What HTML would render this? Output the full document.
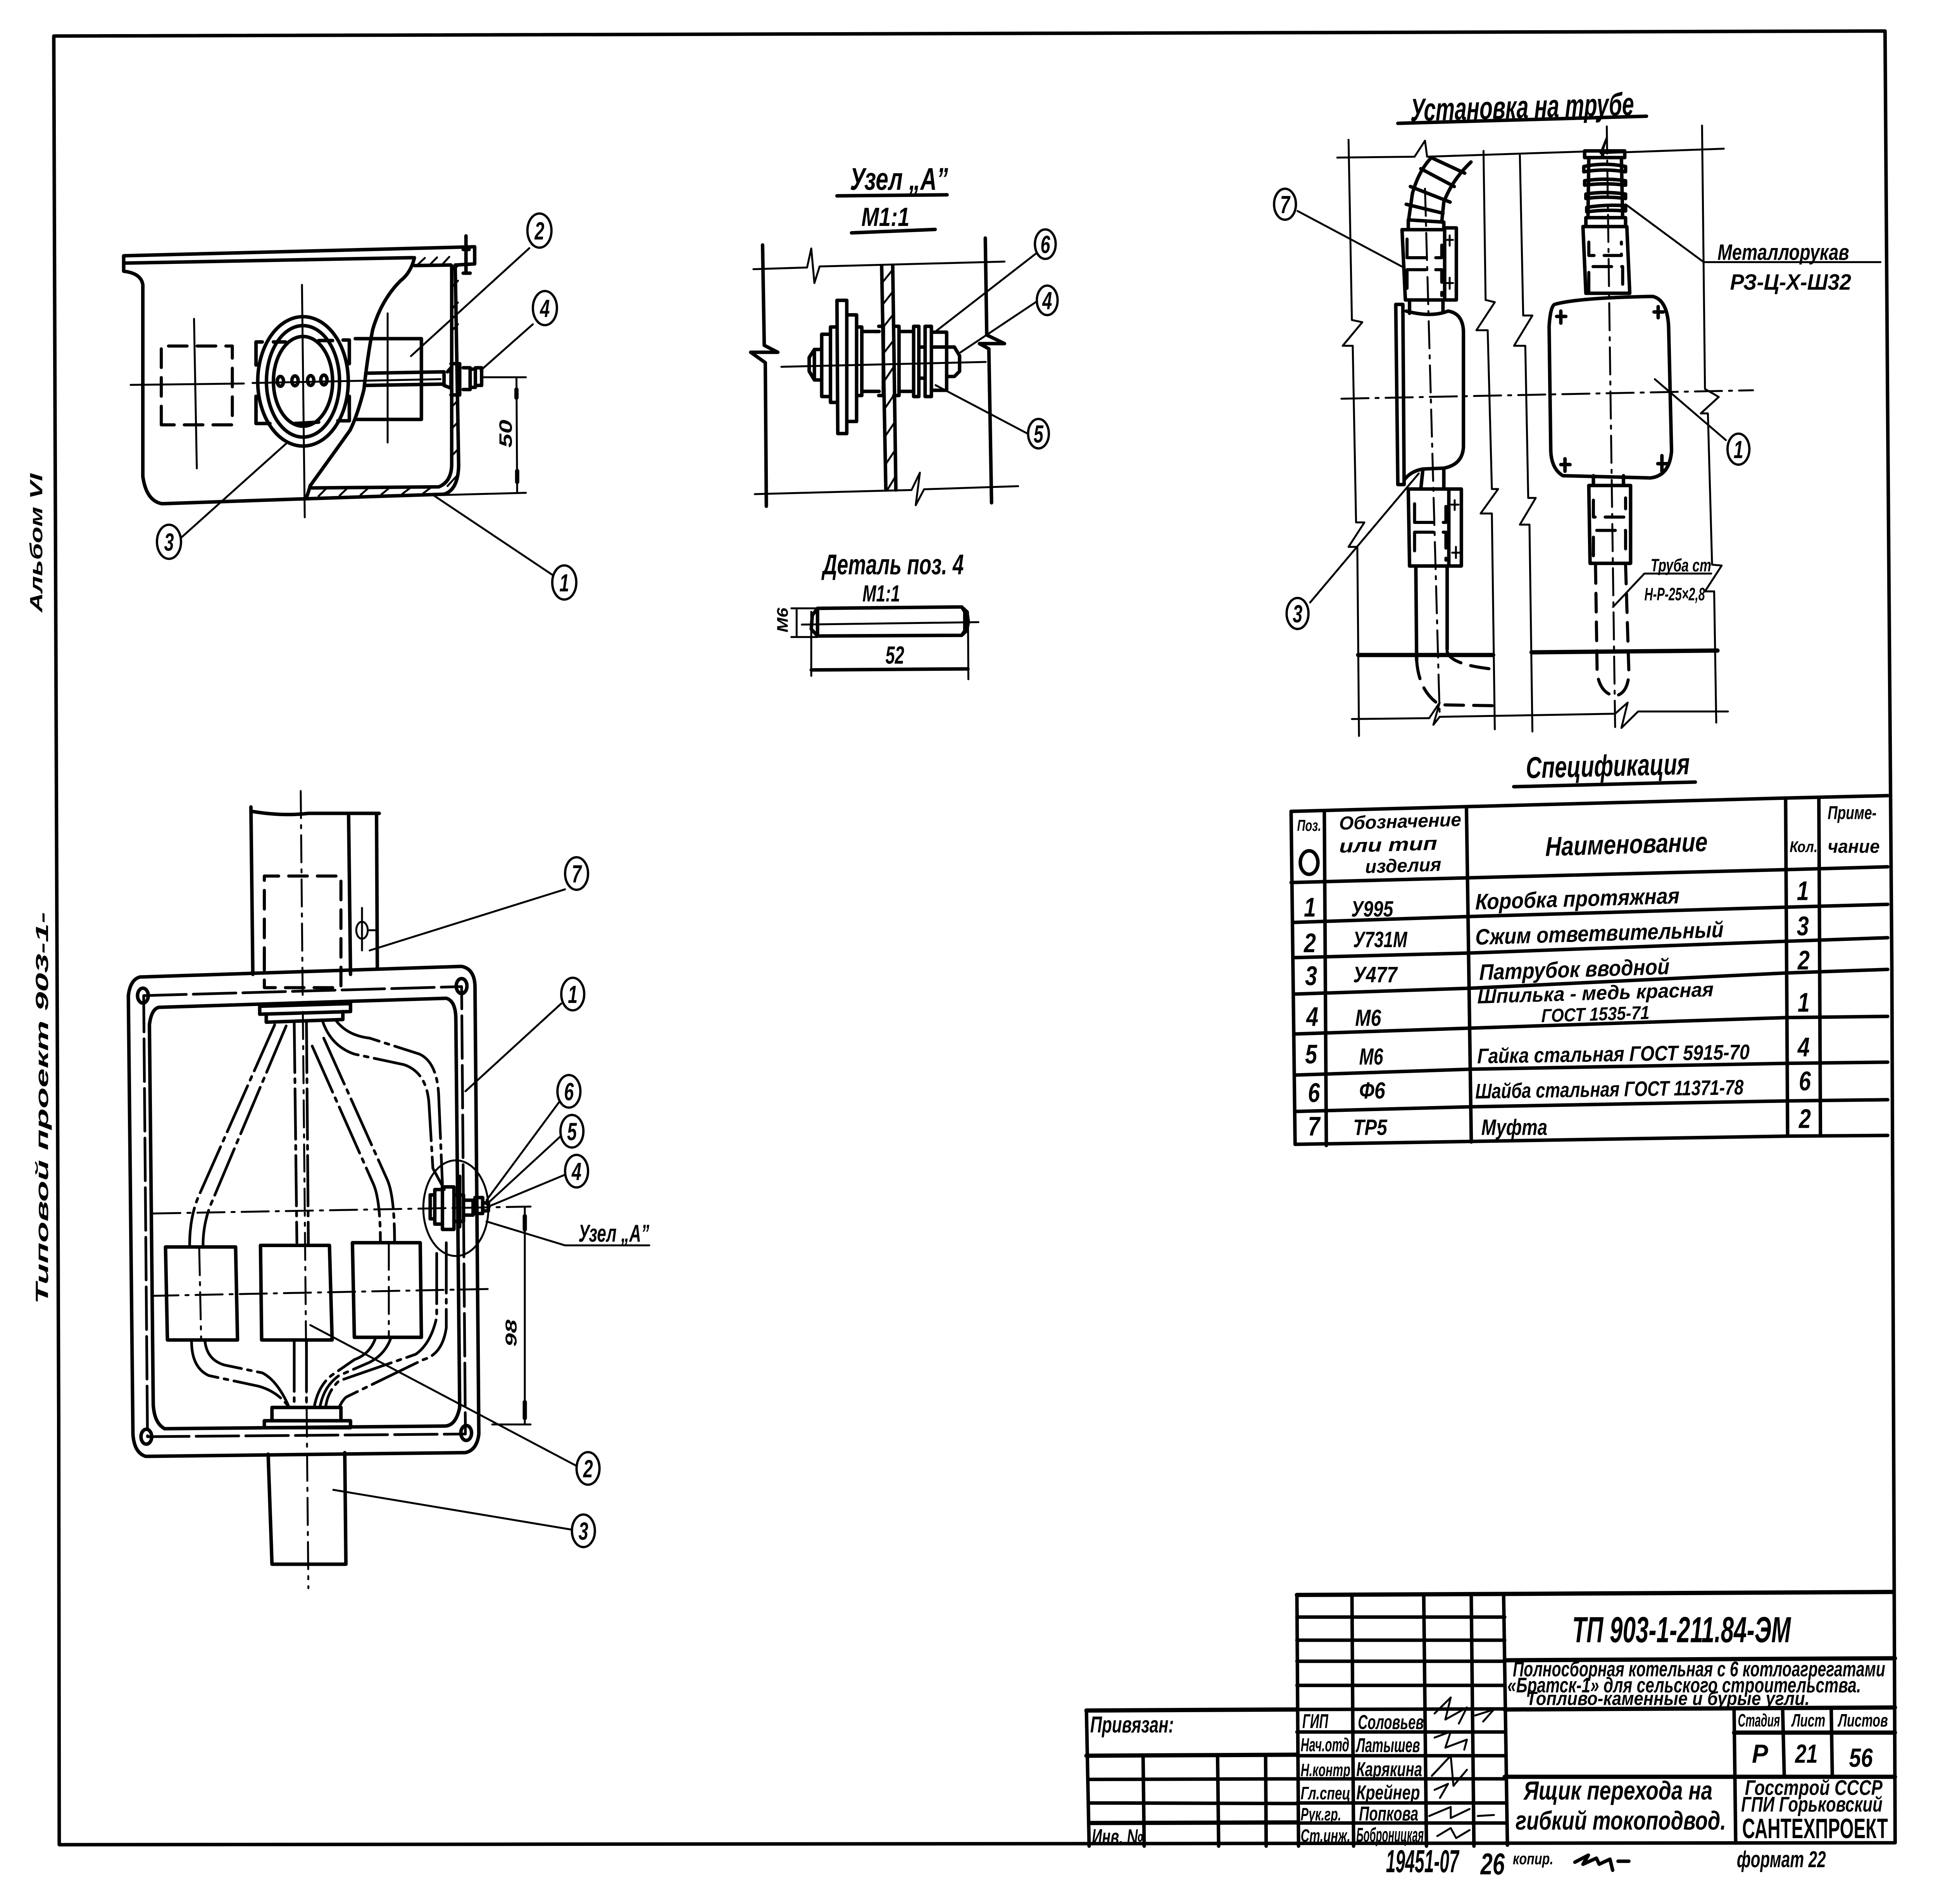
<!DOCTYPE html>
<html lang="ru"><head><meta charset="utf-8"><title>ТП 903-1-211.84-ЭМ</title>
<style>
html,body{margin:0;padding:0;background:#fff;width:100%;height:100%;overflow:hidden}
svg{display:block;width:100vw;height:100vh}
svg *{vector-effect:non-scaling-stroke}
path,ellipse,circle,line,rect{fill:none;stroke:#000;stroke-linecap:round;stroke-linejoin:round}
.f{stroke-width:9}
.m{stroke-width:9}
.k{stroke-width:11}
.t{stroke-width:5}
.d{stroke-width:8;stroke-dasharray:48 26}
.w{stroke-width:7;stroke-dasharray:130 16 10 16}
.l{stroke-width:7;stroke-dasharray:110 18}
.c{stroke-width:5;stroke-dasharray:70 18 8 18}
text{font-family:"Liberation Sans",sans-serif;font-style:italic;font-weight:bold;fill:#000}
.n text{text-anchor:middle;font-size:64px}
.n circle{stroke-width:6;fill:#fff}
</style></head><body>
<svg xmlns="http://www.w3.org/2000/svg" viewBox="0 0 7099 4913" preserveAspectRatio="none">
<rect width="7099" height="4913" style="fill:#fff;stroke:none"/>

<!-- frame -->
<path class="f" d="M197 93L6905 80L6914 1000L6930 2500L6942 4755L217 4760L215 3650L202 1150Z"/>

<!-- margin -->
<text transform="translate(155 1580) rotate(-90)" font-size="64" textLength="358" lengthAdjust="spacingAndGlyphs">Альбом VI</text>
<text transform="translate(176 3365) rotate(-90)" font-size="64" textLength="1012" lengthAdjust="spacingAndGlyphs">Типовой проект 903-1-</text>

<!-- A: front section view -->
<g transform="translate(300 500) scale(1.2755 .7015)">
<path class="m" d="M120 228L1128 195V258L1075 262M120 228V285Q170 292 175 335L175 1040Q185 1130 230 1140L640 1122L1040 1105Q1080 1090 1082 1000L1072 262M122 255L950 235M955 264L1060 262M1062 265L1062 1000Q1060 1060 1025 1078L660 1082M645 1118L655 1078M955 235Q945 290 915 320Q860 390 835 500Q820 600 810 720Q790 820 770 870Q720 960 655 1075"/>
<path class="t" d="M965 260L985 236M1000 260L1020 234M1035 260L1055 232M1065 280L1080 265M1065 340L1080 320M1065 420L1080 400M1065 500L1080 480M1065 780L1080 760M1065 860L1080 840M1065 960L1080 940M1050 1075L1075 1040M680 1112L705 1080M740 1110L765 1080M800 1108L825 1080M860 1106L885 1080M920 1104L945 1080M980 1102L1005 1078"/>
<path class="d" d="M228 850V560H432V850H228"/>
<ellipse class="m" cx="635" cy="690" rx="130" ry="238"/>
<ellipse class="m" cx="635" cy="690" rx="105" ry="205"/>
<ellipse class="m" cx="635" cy="690" rx="85" ry="165"/>
<path class="m" d="M518 545H500V630M750 538H768V625M500 745V845H540M768 745V835H735M785 533H975V830H785M585 545L550 545M680 540L720 540M610 845L680 840"/>
<ellipse class="m" cx="570" cy="690" rx="9" ry="18"/><ellipse class="m" cx="612" cy="688" rx="9" ry="18"/><ellipse class="m" cx="657" cy="687" rx="9" ry="18"/><ellipse class="m" cx="695" cy="685" rx="9" ry="18"/>
<path class="t" d="M140 703L465 698M490 696L1030 682M322 460L330 1010M632 335L640 1190M878 440L878 915"/>
<path class="m" d="M815 660L1040 655M815 705L1040 700M1040 655V705L1060 715V640L1050 655M1060 625H1085V740H1060M1095 640H1115V720H1095M1120 645H1130V712H1120M1130 640H1148V705H1130M1103 155V292M1095 292H1115M1095 205H1112"/>
<path class="t" d="M1150 675H1275M1040 1108L1275 1100M1248 680L1250 1100"/>
<path class="k" d="M1248 720V750M1250 1020V1060"/>
<path class="t" d="M1285 200L945 597M1295 480L1145 650M285 1265L590 915M1355 1405L1005 1105"/>
</g>
<text transform="translate(1875 1155) rotate(-90)" font-size="66" textLength="72" lengthAdjust="spacingAndGlyphs">50</text>

<!-- B: node A -->
<g transform="translate(2700 400) scale(.7653 .8929)">
<path class="m" d="M478 118L1005 115M548 225L948 215"/>
<path class="t" d="M78 330L335 325L355 270L370 370L395 322L1280 308M85 980L835 968L875 918L855 1012L895 966L1345 957"/>
<path class="m" d="M122 260L130 550L195 570L65 570L135 600L140 1015M1188 240L1195 520L1280 545L1160 545L1205 560L1218 1005"/>
<path class="m" d="M692 320L712 968M745 320L760 968"/>
<path class="t" d="M700 365L740 335M700 430L745 395M703 495L748 460M705 570L750 535M708 650L752 610M710 730L755 690M712 810L757 770M715 890L760 850M722 965L762 925"/>
<path class="t" d="M212 612L1190 598"/>
<path class="m" d="M478 420H525V805H482ZM525 462H572V770H530M478 497H447V715H478M447 518H405V698H447M405 562H370L345 585V625L370 650H405M370 562V650M575 497H597V695H575M597 510H680M597 683H680M678 495H700V695H678M750 495H775V695H750M775 510H845M775 683H845M845 495H870V698H845ZM870 555H900M870 645H900M900 495H930V698H900ZM930 512H1003V680H930M930 555H1040L1065 580V625L1040 640H1003"/>
<path class="t" d="M1430 285L950 510M1430 425L1070 570M1390 805L950 665"/>
<path class="m" d="M385 1310L1075 1306L1090 1320V1375L1075 1388L385 1390ZM385 1310L360 1330L355 1370L385 1390M1075 1306L1100 1320L1107 1350L1098 1375L1075 1388"/>
<path class="t" d="M310 1357L1155 1350M260 1310H385M260 1393H385M285 1315V1390M355 1320V1505M1105 1320L1107 1515"/>
<path class="m" d="M355 1488L1105 1485"/>
<text x="540" y="100" font-size="90" textLength="470" lengthAdjust="spacingAndGlyphs">Узел „А”</text>
<text x="595" y="205" font-size="76" textLength="230" lengthAdjust="spacingAndGlyphs">М1:1</text>
<text x="410" y="1212" font-size="82" textLength="675" lengthAdjust="spacingAndGlyphs">Деталь поз. 4</text>
<text x="600" y="1290" font-size="68" textLength="180" lengthAdjust="spacingAndGlyphs">М1:1</text>
<text x="710" y="1470" font-size="72" textLength="90" lengthAdjust="spacingAndGlyphs">52</text>
</g>
<text transform="translate(2886 1632) rotate(-90)" font-size="56" textLength="64" lengthAdjust="spacingAndGlyphs">М6</text>

<!-- C: mounting on pipe -->
<g transform="translate(4600 200) scale(1.5306 1.148)">
<path class="m" d="M340 103L935 87"/>
<path class="t" d="M195 180L380 178L405 142L410 178L830 165L840 135L825 170L1120 160M222 140L230 545L255 550L208 603L232 603L240 1000L260 1000L222 1055L243 1055L247 1480M545 165L550 500L572 505L528 568L555 568L565 925L580 925L538 980L565 980L572 1465M632 175L640 535L662 535L618 603L645 603L652 945L670 945L632 1005L655 1005L662 1470M1068 108L1075 700L1108 718L1065 755L1082 755L1092 1095L1115 1097L1075 1155L1097 1155L1102 1450M230 1442L415 1440L440 1405L425 1455L440 1437L860 1430L890 1405L875 1462L915 1425L1130 1425"/>
<path class="k" d="M245 1298H568M660 1292L1105 1288"/>
<path class="c" d="M205 722L1190 703M405 250L440 1430M840 110L860 1460"/>
<!-- left assembly -->
<path class="m" d="M365 325L375 260Q390 210 420 180M445 325L450 280Q470 230 515 190M360 285L448 305M370 245L465 280M395 205L475 245M420 180L500 215M365 320L450 325V342M365 320V342M350 342H452V500H358ZM452 338H480V500H452"/>
<path class="d" d="M362 405V355M362 405H445V355M362 432V490M362 432H445V490"/>
<path class="t" d="M457 365H472M464 355V378M457 462H472M464 450V475"/>
<path class="m" d="M368 505V530M448 505V528M335 510H352L355 915H340ZM360 525Q420 540 460 525Q495 530 497 570L497 830Q495 870 450 878L400 880Q370 885 355 905M400 880L395 925M450 878V925M365 925H462V1098H368ZM462 925H492V1098H465"/>
<path class="d" d="M380 1000V945M380 1000H455V945M380 1022V1085M380 1022H455V1085"/>
<path class="t" d="M468 960H485M476 950V972M470 1068H488M479 1055V1080"/>
<path class="m" d="M383 1098L385 1310M458 1098L458 1285"/>
<path class="d" d="M385 1310Q390 1380 440 1410L570 1412M458 1290Q465 1320 570 1330"/>
<!-- right assembly -->
<path class="m" d="M787 165H883V180H787ZM830 180V165M797 180L795 315M875 180L878 315M785 200Q835 190 885 200V212Q835 204 785 212ZM787 232Q835 225 885 232V242Q835 236 787 242ZM790 262Q835 255 885 262V272Q835 266 790 272ZM792 292Q835 285 885 288V300Q835 296 792 302ZM790 315H885V335H790ZM783 335H888L895 485H790ZM715 510Q770 495 950 492Q985 500 988 560L995 840Q990 895 945 900L735 895Q708 880 706 840L702 560Q705 515 715 510ZM808 895V917M880 895V917M797 917H897V1092H800Z"/>
<path class="d" d="M797 370V400H875V370M797 480V425H878V480M808 950V988H885V945M808 1075V1018H885V1075"/>
<path class="m" d="M720 537H742M730 525V552M953 527H975M963 515V540M730 870H752M740 857V885M962 868H984M972 850V885"/>
<path class="d" d="M813 1095L817 1340Q825 1385 860 1390Q890 1385 893 1340L885 1095"/>
<path class="t" d="M885 285L1072 415H1495M955 678L1125 815M100 300L350 425M130 1180L390 890M855 1190L930 1115H1090"/>
<text transform="translate(370 98) skewY(-1.5)" font-size="72" textLength="535" lengthAdjust="spacingAndGlyphs">Установка на трубе</text>
<text x="1105" y="410" font-size="50" textLength="315" lengthAdjust="spacingAndGlyphs">Металлорукав</text>
<text x="1135" y="477" font-size="50" textLength="290" lengthAdjust="spacingAndGlyphs">РЗ-Ц-Х-Ш32</text>
<text x="945" y="1110" font-size="40" textLength="145" lengthAdjust="spacingAndGlyphs">Труба ст</text>
<text x="930" y="1175" font-size="40" textLength="145" lengthAdjust="spacingAndGlyphs">Н-Р-25×2,8</text>
</g>

<!-- D: plan view -->
<g transform="translate(400 2000) scale(1.4031 1.3712)">
<path class="m" d="M370 60L375 375M370 68Q450 78 520 72L705 72M625 75L630 375M698 75L700 365M415 1278L425 1485H618L615 1275"/>
<ellipse class="t" cx="660" cy="292" rx="15" ry="16"/>
<path class="t" d="M660 250V330M675 292H700M680 330L1190 215"/>
<path class="d" d="M405 360V190H605V400H405V360"/>
<path class="m" d="M80 380L920 360Q955 365 955 400L965 1240Q960 1270 930 1275L95 1282Q65 1275 62 1240L50 415Q55 385 80 380ZM130 437L880 420Q905 425 905 460L915 1190Q905 1225 875 1225L145 1230Q118 1220 115 1185L105 470Q110 440 130 437Z"/>
<path class="l" d="M90 415L920 398L930 1240L100 1245Z"/>
<circle class="m" cx="88" cy="415" r="14"/><circle class="m" cx="920" cy="397" r="14"/><circle class="m" cx="97" cy="1245" r="14"/><circle class="m" cx="932" cy="1238" r="14"/>
<path class="m" d="M393 435L630 430V445L393 450ZM410 450V465L610 460V445M425 1190H605V1215H425ZM405 1215H630V1228H405ZM147 888H330L335 1063H152ZM395 885H575L582 1063H398ZM635 880H812L815 1058H640Z"/>
<path class="w" d="M432 470L235 790Q210 830 210 885M462 472L270 800Q245 840 245 885M530 510L690 770Q708 800 708 880M560 495L725 760Q745 790 745 880M558 465Q580 510 640 525L770 545Q830 560 835 620L845 740L875 780M590 460Q620 490 680 495L810 525Q855 540 860 600L870 770M880 880L880 1040Q870 1090 820 1100L620 1170Q610 1175 600 1190M855 900L855 1020Q840 1070 800 1090L600 1140Q570 1160 565 1190M483 465L490 880M515 465L520 885M483 1065V1190M515 1065V1190M215 1065Q215 1115 260 1130L390 1150Q440 1160 470 1190M250 1065Q255 1100 300 1110L400 1125Q440 1140 470 1190M695 1060Q680 1090 640 1100L580 1130Q545 1150 535 1190M735 1060Q720 1090 680 1105L600 1130Q560 1150 550 1190"/>
<path class="c" d="M500 30L520 1530M115 825L1100 812M110 980L995 967M235 890L240 1060M730 880V1058"/>
<ellipse class="t" cx="905" cy="815" rx="85" ry="90"/>
<path class="m" d="M838 790H850V835H838ZM850 780H870V845H850ZM870 775H900V855H870ZM900 790H925V840H900ZM925 800H950V828H925ZM955 795H975V825H955ZM975 805H990V820H975ZM915 755V850"/>
<path class="t" d="M1000 1222H1100M1085 815V1222M985 840L1190 885H1410M1180 430L930 595M1175 615L985 800M1178 680L985 808M1190 752L990 812M1220 1300L525 1035M1208 1420L585 1345"/>
<path class="k" d="M1085 830V855M1085 1180V1210"/>
<text x="1225" y="878" font-size="46" textLength="185" lengthAdjust="spacingAndGlyphs">Узел „А”</text>
</g>
<text transform="translate(1892 3475) rotate(-90)" font-size="58" textLength="70" lengthAdjust="spacingAndGlyphs">98</text>

<!-- callouts -->
<g class="n">
<g transform="translate(1976 595)"><circle r="44"/><text y="23">2</text></g>
<g transform="translate(1996 795)"><circle r="44"/><text y="23">4</text></g>
<g transform="translate(619 1398)"><circle r="44"/><text y="23">3</text></g>
<g transform="translate(2067 1503)"><circle r="44"/><text y="23">1</text></g>
<g transform="translate(3829 630)"><circle r="38"/><text y="23">6</text></g>
<g transform="translate(3836 775)"><circle r="38"/><text y="23">4</text></g>
<g transform="translate(3804 1119)"><circle r="38"/><text y="23">5</text></g>
<g transform="translate(4707 527)"><circle r="40"/><text y="23">7</text></g>
<g transform="translate(4753 1583)"><circle r="40"/><text y="23">3</text></g>
<g transform="translate(6368 1159)"><circle r="40"/><text y="23">1</text></g>
<g transform="translate(2112 2254)"><circle r="42"/><text y="23">7</text></g>
<g transform="translate(2098 2565)"><circle r="42"/><text y="23">1</text></g>
<g transform="translate(2084 2816)"><circle r="42"/><text y="23">6</text></g>
<g transform="translate(2095 2919)"><circle r="42"/><text y="23">5</text></g>
<g transform="translate(2112 3022)"><circle r="42"/><text y="23">4</text></g>
<g transform="translate(2154 3789)"><circle r="42"/><text y="23">2</text></g>
<g transform="translate(2137 3950)"><circle r="42"/><text y="23">3</text></g>
</g>

<text transform="translate(5590 2008) rotate(-1)" font-size="78" textLength="600" lengthAdjust="spacingAndGlyphs">Спецификация</text>
<path class="m" d="M5545 2030L6210 2018"/>

<!-- E: spec table -->
<g transform="translate(4700 2050) scale(1.4668 .6059)">
<path class="m" d="M20 72L1260 15L1510 5M20 375L460 355L1260 320L1510 308M30 1490L1260 1455L1510 1452"/>
<path class="m" d="M25 545L460 520L1255 480L1510 468M25 695L470 675L1260 625L1510 610M30 850L470 825L1260 760L1510 745M30 1020L470 995L1260 950L1510 945M30 1195L470 1170L1260 1145L1510 1140M30 1350L470 1330L1260 1305L1510 1300"/>
<path class="m" d="M20 72L30 1490M103 70L108 1495M458 60L470 1480M1255 20L1260 1455M1338 15L1342 1452"/>
<ellipse class="m" cx="65" cy="290" rx="22" ry="50"/>
<text x="35" y="155" font-size="68" textLength="60" lengthAdjust="spacingAndGlyphs">Поз.</text>
<text transform="translate(140 150) skewY(-3)" font-size="80" textLength="305" lengthAdjust="spacingAndGlyphs">Обозначение</text>
<text transform="translate(140 248) skewY(-3)" font-size="80" textLength="245" lengthAdjust="spacingAndGlyphs">или тип</text>
<text transform="translate(205 335) skewY(-3)" font-size="80" textLength="190" lengthAdjust="spacingAndGlyphs">изделия</text>
<text transform="translate(655 262) skewY(-3)" font-size="115" textLength="405" lengthAdjust="spacingAndGlyphs">Наименование</text>
<text x="1265" y="245" font-size="66" textLength="70" lengthAdjust="spacingAndGlyphs">Кол.</text>
<text x="1360" y="105" font-size="80" textLength="122" lengthAdjust="spacingAndGlyphs">Приме-</text>
<text x="1360" y="248" font-size="80" textLength="130" lengthAdjust="spacingAndGlyphs">чание</text>

<text x="52" y="520" font-size="115" textLength="30" lengthAdjust="spacingAndGlyphs">1</text><text x="170" y="520" font-size="95" textLength="105" lengthAdjust="spacingAndGlyphs">У995</text>
<text transform="translate(480 490) skewY(-3)" font-size="95" textLength="510" lengthAdjust="spacingAndGlyphs">Коробка протяжная</text><text x="1283" y="450" font-size="115" textLength="30" lengthAdjust="spacingAndGlyphs">1</text>
<text x="52" y="672" font-size="115" textLength="30" lengthAdjust="spacingAndGlyphs">2</text><text x="175" y="650" font-size="95" textLength="135" lengthAdjust="spacingAndGlyphs">У731М</text>
<text transform="translate(480 640) skewY(-3)" font-size="95" textLength="620" lengthAdjust="spacingAndGlyphs">Сжим ответвительный</text><text x="1283" y="600" font-size="115" textLength="30" lengthAdjust="spacingAndGlyphs">3</text>
<text x="55" y="812" font-size="115" textLength="30" lengthAdjust="spacingAndGlyphs">3</text><text x="175" y="800" font-size="95" textLength="110" lengthAdjust="spacingAndGlyphs">У477</text>
<text transform="translate(490 790) skewY(-3)" font-size="95" textLength="475" lengthAdjust="spacingAndGlyphs">Патрубок вводной</text><text x="1285" y="745" font-size="115" textLength="30" lengthAdjust="spacingAndGlyphs">2</text>
<text x="58" y="985" font-size="115" textLength="30" lengthAdjust="spacingAndGlyphs">4</text><text x="180" y="985" font-size="100" textLength="65" lengthAdjust="spacingAndGlyphs">М6</text>
<text transform="translate(485 890) skewY(-3)" font-size="85" textLength="590" lengthAdjust="spacingAndGlyphs">Шпилька - медь красная</text>
<text transform="translate(645 970) skewY(-3)" font-size="80" textLength="270" lengthAdjust="spacingAndGlyphs">ГОСТ 1535-71</text><text x="1285" y="925" font-size="115" textLength="30" lengthAdjust="spacingAndGlyphs">1</text>
<text x="55" y="1145" font-size="115" textLength="30" lengthAdjust="spacingAndGlyphs">5</text><text x="190" y="1150" font-size="100" textLength="60" lengthAdjust="spacingAndGlyphs">М6</text>
<text transform="translate(485 1145) skewY(-1.5)" font-size="90" textLength="680" lengthAdjust="spacingAndGlyphs">Гайка стальная ГОСТ 5915-70</text><text x="1285" y="1115" font-size="115" textLength="30" lengthAdjust="spacingAndGlyphs">4</text>
<text x="62" y="1310" font-size="115" textLength="30" lengthAdjust="spacingAndGlyphs">6</text><text x="190" y="1295" font-size="100" textLength="65" lengthAdjust="spacingAndGlyphs">Ф6</text>
<text transform="translate(480 1295) skewY(-1.5)" font-size="90" textLength="670" lengthAdjust="spacingAndGlyphs">Шайба стальная ГОСТ 11371-78</text><text x="1288" y="1260" font-size="115" textLength="30" lengthAdjust="spacingAndGlyphs">6</text>
<text x="62" y="1452" font-size="115" textLength="30" lengthAdjust="spacingAndGlyphs">7</text><text x="175" y="1450" font-size="95" textLength="85" lengthAdjust="spacingAndGlyphs">ТР5</text>
<text x="495" y="1450" font-size="95" textLength="165" lengthAdjust="spacingAndGlyphs">Муфта</text><text x="1288" y="1420" font-size="115" textLength="30" lengthAdjust="spacingAndGlyphs">2</text>
</g>

<!-- T: title block -->
<g transform="translate(3950 4100) scale(1.977 .5185)">
<path class="m" d="M405 30L1510 15M405 30L408 1280M507 35L510 1280M640 35L645 1280M728 35L733 1280M788 30L795 1275M405 140H790M405 255H790M405 360H790M405 480H790M15 605L405 600L790 597M405 712H790M405 830H790M405 945H790M405 1065H790M405 1165H790M15 605L20 1280M15 830L405 825M20 948L405 945M20 1065L405 1068M20 1165L405 1162M120 835L122 1280M258 835L260 1280M347 835L348 1280M790 355L1513 345M790 600L1513 590M790 935L1513 935M1215 600L1218 1265M1215 715L1513 715M1305 600L1308 935M1395 600L1397 935"/>
<path class="k" d="M15 605L405 600M15 830L405 825M20 1165L405 1162M405 30L1510 15M790 355L1513 345M790 600L1513 590M790 935L1513 935M1215 715L1513 715"/>
<text x="915" y="265" font-size="180" textLength="405" lengthAdjust="spacingAndGlyphs">ТП 903-1-211.84-ЭМ</text>
<text x="805" y="435" font-size="105" textLength="690" lengthAdjust="spacingAndGlyphs">Полносборная котельная с 6 котлоагрегатами</text>
<text x="795" y="515" font-size="105" textLength="655" lengthAdjust="spacingAndGlyphs">«Братск-1» для сельского строительства.</text>
<text x="830" y="578" font-size="95" textLength="525" lengthAdjust="spacingAndGlyphs">Топливо-каменные и бурые угли.</text>
<text x="1222" y="685" font-size="90" textLength="78" lengthAdjust="spacingAndGlyphs">Стадия</text>
<text x="1322" y="685" font-size="90" textLength="62" lengthAdjust="spacingAndGlyphs">Лист</text>
<text x="1408" y="685" font-size="90" textLength="92" lengthAdjust="spacingAndGlyphs">Листов</text>
<text x="1248" y="865" font-size="130" textLength="30" lengthAdjust="spacingAndGlyphs">Р</text>
<text x="1328" y="865" font-size="130" textLength="42" lengthAdjust="spacingAndGlyphs">21</text>
<text x="1428" y="885" font-size="130" textLength="44" lengthAdjust="spacingAndGlyphs">56</text>
<text x="22" y="715" font-size="115" textLength="155" lengthAdjust="spacingAndGlyphs">Привязан:</text>
<text x="25" y="1272" font-size="110" textLength="95" lengthAdjust="spacingAndGlyphs">Инв. №</text>
<text x="415" y="692" font-size="100" textLength="48" lengthAdjust="spacingAndGlyphs">ГИП</text>
<text x="412" y="808" font-size="95" textLength="90" lengthAdjust="spacingAndGlyphs">Нач.отд</text>
<text x="412" y="932" font-size="90" textLength="92" lengthAdjust="spacingAndGlyphs">Н.контр</text>
<text x="412" y="1047" font-size="90" textLength="92" lengthAdjust="spacingAndGlyphs">Гл.спец</text>
<text x="412" y="1152" font-size="90" textLength="75" lengthAdjust="spacingAndGlyphs">Рук.гр.</text>
<text x="412" y="1258" font-size="90" textLength="92" lengthAdjust="spacingAndGlyphs">Ст.инж.</text>
<text x="518" y="697" font-size="100" textLength="122" lengthAdjust="spacingAndGlyphs">Соловьев</text>
<text x="515" y="812" font-size="100" textLength="118" lengthAdjust="spacingAndGlyphs">Латышев</text>
<text x="515" y="932" font-size="100" textLength="122" lengthAdjust="spacingAndGlyphs">Карякина</text>
<text x="515" y="1047" font-size="100" textLength="118" lengthAdjust="spacingAndGlyphs">Крейнер</text>
<text x="520" y="1152" font-size="100" textLength="110" lengthAdjust="spacingAndGlyphs">Попкова</text>
<text x="515" y="1258" font-size="100" textLength="125" lengthAdjust="spacingAndGlyphs">Боброницкая</text>
<path class="t" d="M660 620L690 540L680 650L720 590L705 670M735 630L770 600L750 660M660 740L690 710L680 790L720 750L715 800M655 930L690 830L695 980L720 900M660 1000L685 970L670 1040M650 1130L690 1085L690 1140L725 1095M665 1230L690 1190L700 1240L725 1200M740 1130L770 1125"/>
<text x="825" y="1048" font-size="130" textLength="350" lengthAdjust="spacingAndGlyphs">Ящик перехода на</text>
<text x="810" y="1198" font-size="130" textLength="390" lengthAdjust="spacingAndGlyphs">гибкий токоподвод.</text>
<text x="1235" y="1025" font-size="105" textLength="255" lengthAdjust="spacingAndGlyphs">Госстрой СССР</text>
<text x="1228" y="1108" font-size="105" textLength="262" lengthAdjust="spacingAndGlyphs">ГПИ Горьковский</text>
<text x="1230" y="1240" font-size="140" textLength="270" lengthAdjust="spacingAndGlyphs" style="font-style:normal">САНТЕХПРОЕКТ</text>
<text x="570" y="1410" font-size="160" textLength="135" lengthAdjust="spacingAndGlyphs">19451-07</text>
<text x="745" y="1420" font-size="150" textLength="45" lengthAdjust="spacingAndGlyphs">26</text>
<text x="805" y="1370" font-size="80" textLength="75" lengthAdjust="spacingAndGlyphs">копир.</text>
<path class="m" d="M920 1360L945 1325L935 1370L960 1340L965 1370L985 1345L990 1400M1000 1355H1020"/>
<text x="1220" y="1385" font-size="115" textLength="165" lengthAdjust="spacingAndGlyphs">формат 22</text>
</g>
</svg>
</body></html>
